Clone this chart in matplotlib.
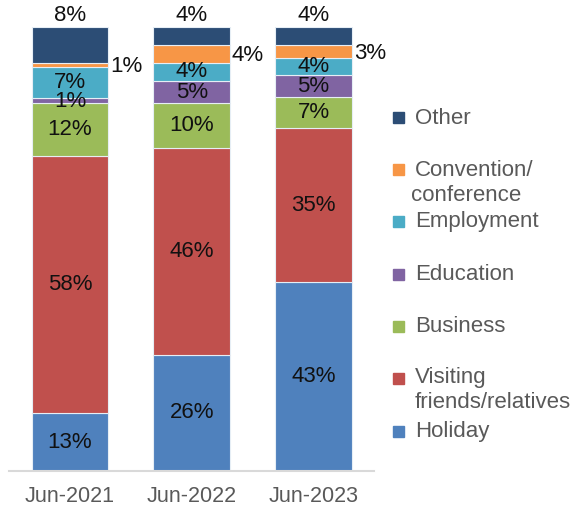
import matplotlib
matplotlib.use("Agg")
import matplotlib.pyplot as plt
import numpy as np

# Data (percent share of visitor arrivals by purpose)
periods = ["Jun-2021", "Jun-2022", "Jun-2023"]
purposes = ["Holiday", "Visiting\nfriends/relatives", "Business", "Education",
            "Employment", "Convention/\nconference", "Other"]
holiday = [13, 26, 43]
visiting = [58, 46, 35]
business = [12, 10, 7]
education = [1, 5, 5]
employment = [7, 4, 4]
convention = [1, 4, 3]
other = [8, 4, 4]
colors = ["#4F81BD", "#C0504D", "#9BBB59", "#8064A2", "#4BACC6", "#F79646", "#2C4D75"]

series = [holiday, visiting, business, education, employment, convention, other]

plt.rcParams['font.family'] = ['Liberation Sans', 'DejaVu Sans']

fig = plt.figure(figsize=(5.8, 5.11), dpi=100)
ax = fig.add_axes([0.0155, 0.078, 0.63, 0.869])

x = np.arange(len(periods))
# 100% stacked: each column scaled to a full bar
totals = np.sum(np.array(series, dtype=float), axis=0)
bottom = np.zeros(len(periods))
for k, vals in enumerate(series):
    vals = np.array(vals, dtype=float)
    h = vals / totals * 100
    ax.bar(x, h, bottom=bottom, width=0.63, color=colors[k],
           edgecolor="#E6EEF5", linewidth=0.8)
    for i, v in enumerate(vals):
        mid = bottom[i] + h[i] / 2
        if k == 6:
            # "Other" labels sit above the bar
            ax.text(x[i], bottom[i] + h[i] + 0.2, "%d%%" % v, ha="center", va="bottom",
                    fontsize=16, color="#111111")
        elif k == 5:
            # Convention labels sit to the right of the bar
            ax.text(x[i] + 0.33, mid - 0.4, "%d%%" % v, ha="left", va="center",
                    fontsize=16, color="#111111")
        elif k == 3 and v < 2:
            # tiny segment: nudge label down a touch as in the original
            ax.text(x[i], mid - 0.3, "%d%%" % v, ha="center", va="center",
                    fontsize=16, color="#111111")
        else:
            ax.text(x[i], mid, "%d%%" % v, ha="center", va="center",
                    fontsize=16, color="#111111")
    bottom += h

ax.set_xlim(-0.5, 2.5)
ax.set_ylim(0, 100)
ax.set_yticks([])
ax.set_xticks(x)
ax.set_xticklabels(periods, fontsize=15.5, color="#595959")
ax.tick_params(axis="x", length=0, pad=11)
for s in ["top", "right", "left"]:
    ax.spines[s].set_visible(False)
ax.spines["bottom"].set_color("#D9D9D9")
ax.spines["bottom"].set_linewidth(1.5)
ax.patch.set_alpha(0)

# Legend drawn by hand (top entry = Other)
leg_y = [118, 170, 222, 274, 326, 378, 431]
for j, yp in enumerate(leg_y):
    k = 6 - j
    yf = 1 - yp / 511.0
    fig.patches.append(plt.Rectangle((393 / 580.0, yf - 5.5 / 511.0), 11 / 580.0, 11 / 511.0,
                                     transform=fig.transFigure, color=colors[k]))
    lines = purposes[k].split("\n")
    fig.text(415 / 580.0, yf, lines[0], ha="left", va="center", fontsize=16, color="#595959")
    if len(lines) > 1:
        x2 = 411 / 580.0 if k == 5 else 415 / 580.0
        fig.text(x2, yf - 25 / 511.0, lines[1], ha="left", va="center",
                 fontsize=16, color="#595959")

fig.savefig("out.png", dpi=100)
